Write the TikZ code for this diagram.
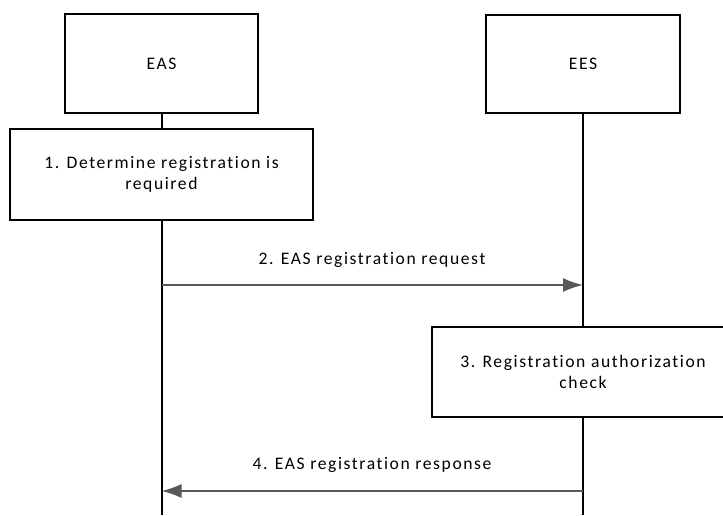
\documentclass[tikz,border=0pt]{standalone}
\usepackage{fontspec}
\setmainfont{Carlito}[LetterSpace=9,RawFeature=-liga]
\usepackage{tikz}
\usetikzlibrary{arrows.meta}
\definecolor{msgline}{RGB}{89,89,89}
\definecolor{msghead}{RGB}{64,64,64}
\tikzset{
  entity/.style={draw,line width=1.5pt,minimum width=145pt,minimum height=74pt,align=center,font=\fontsize{13.2}{15.8}\selectfont},
  stepbox/.style={draw,line width=1.5pt,align=center,font=\fontsize{13.2}{15.8}\selectfont},
  life/.style={line width=1.5pt},
  msg/.style={msghead,line width=1.2pt,-{Latex[length=15pt,width=10.5pt]}},
  msgtext/.style={font=\fontsize{13.2}{15.8}\selectfont}
}
\begin{document}
\begin{tikzpicture}[x=0.75pt,y=-0.75pt]
\useasboundingbox (0,0) rectangle (723,515);
\node[entity](EAS)at(161.5,63.5){EAS};
\node[entity](EES)at(583,64){EES};
\node[stepbox,minimum width=227pt,minimum height=68pt](S1)at(161.5,174.5){1. Determine registration is\\required};
\node[stepbox,minimum width=226.5pt,minimum height=67.5pt](S3)at(583,372){3. Registration authorization\\check};
\coordinate(EASend)at(161.5,515);
\coordinate(EESend)at(583,515);
\coordinate(M2s)at(161.5,285);
\coordinate(M2e)at(583,285);
\coordinate(M4s)at(583,491);
\coordinate(M4e)at(161.5,491);
\draw[life](EAS.south)--(S1.north);
\draw[life](S1.south)--(EASend);
\draw[life](EES.south)--(S3.north);
\draw[life](S3.south)--(EESend);
\draw[msg,draw=msgline](M2s)--(M2e);
\draw[msg,draw=msgline](M4s)--(M4e);
\node[msgtext](T2)at(372,260){2. EAS registration request};
\node[msgtext](T4)at(372,465){4. EAS registration response};
\end{tikzpicture}
\end{document}
